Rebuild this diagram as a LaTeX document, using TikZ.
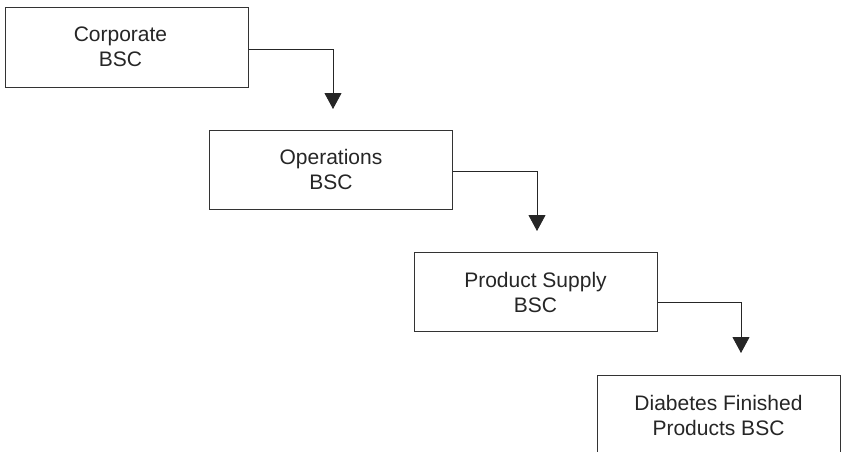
\documentclass[tikz,border=0pt]{standalone}
\usepackage{fontspec}
\setmainfont{Liberation Sans}
\usetikzlibrary{arrows.meta}

\begin{document}
\begin{tikzpicture}[
    x=1pt, y=-1pt,
    bsc/.style={draw=black!80, line width=1pt, fill=white,
      minimum width=243pt, inner sep=0pt, align=center,
      text=black!85, font=\fontsize{21}{25}\selectfont},
    link/.style={draw=black!85, line width=0.9pt,
      -{Triangle[length=16pt,width=17pt]}}
  ]
  \useasboundingbox (0,0) rectangle (841,451);
  \clip (0,0) rectangle (841,451);

  % chain of scorecards
  \node[bsc, minimum height=80pt] (corp) at (126.5,47)
    {\hspace*{-12pt}Corporate\\\hspace*{-12pt}BSC};
  \node[bsc, minimum height=79pt] (ops)  at (331,169.5) {Operations\\BSC};
  \node[bsc, minimum height=79pt] (ps)   at (535.5,292) {Product Supply\\BSC};
  \node[bsc, minimum height=80pt] (dfp)  at (718.5,415) {Diabetes Finished\\Products BSC};

  % arrow tips, ending above the next box
  \coordinate (t1) at (333,109);
  \coordinate (t2) at (537,231);
  \coordinate (t3) at (741,353);

  \draw[link] ([yshift=-2pt]corp.east) -| (t1);
  \draw[link] ([yshift=-1.5pt]ops.east) -| (t2);
  \draw[link] ([yshift=-10pt]ps.east) -| (t3);
\end{tikzpicture}
\end{document}
